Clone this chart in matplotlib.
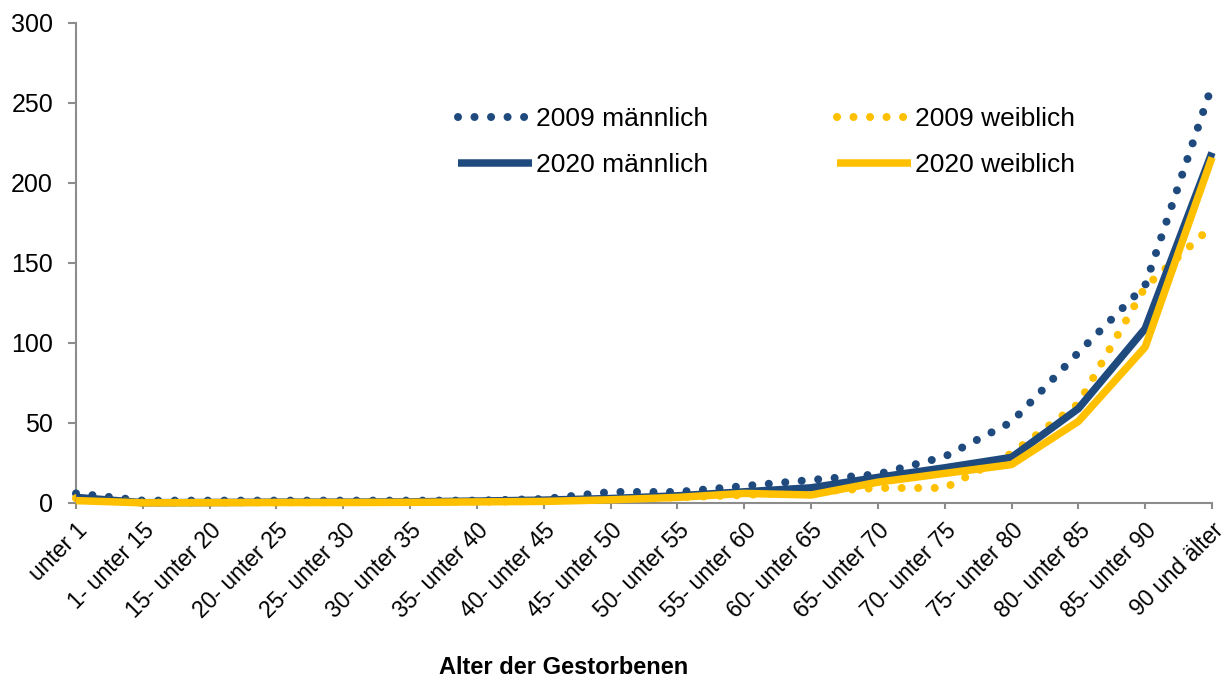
# Sterbefaelle nach Altersgruppen, 2009 vs 2020
import numpy as np
import matplotlib.pyplot as plt

plt.rcParams['font.family'] = ['Liberation Sans', 'DejaVu Sans']

# data
AGES = ["unter 1", "1- unter 15", "15- unter 20", "20- unter 25", "25- unter 30",
        "30- unter 35", "35- unter 40", "40- unter 45", "45- unter 50", "50- unter 55",
        "55- unter 60", "60- unter 65", "65- unter 70", "70- unter 75", "75- unter 80",
        "80- unter 85", "85- unter 90", "90 und älter"]

M_2009 = [6, 1.5, 1.5, 1.5, 1.5, 1.5, 1.5, 2.5, 6.9, 6.9, 10.6, 14.4, 18, 29, 50.6, 94, 136, 261]
W_2009 = [3, 0.3, 0.3, 0.4, 0.5, 0.6, 0.8, 1.2, 2.5, 3.5, 5, 7, 9.4, 9.4, 31, 62, 135, 173]
M_2020 = [3.5, 0.2, 0.3, 0.5, 0.5, 0.7, 1.2, 1.8, 2.8, 4.5, 7, 9.5, 16, 22, 28.5, 59, 109, 219]
W_2020 = [1.5, 0.1, 0.2, 0.3, 0.3, 0.4, 0.7, 1.0, 2.0, 3.5, 6, 5, 13, 18.5, 24, 51, 97.5, 216]

NAVY = '#1F4A7E'
GOLD = '#FFC000'
GRAY = '#8C8C8C'


def main():
    fig = plt.figure(figsize=(12.24, 6.78), dpi=100)
    ax = fig.add_axes([76/1224, 1 - 503/678, (1212-76)/1224, (503-23)/678])

    x = np.arange(len(AGES))
    dots = (0, (0.001, 2.05))

    ax.plot(x, M_2009, color=NAVY, lw=5.8, linestyle=dots, dash_capstyle='round',
            label='2009 männlich', clip_on=False, zorder=3)
    ax.plot(x, W_2009, color=GOLD, lw=5.8, linestyle=dots, dash_capstyle='round',
            label='2009 weiblich', clip_on=False, zorder=3)
    ax.plot(x, M_2020, color=NAVY, lw=5.4, solid_capstyle='butt',
            label='2020 männlich', clip_on=False, zorder=4)
    ax.plot(x, W_2020, color=GOLD, lw=5.4, solid_capstyle='butt',
            label='2020 weiblich', clip_on=False, zorder=5)

    ax.set_xlim(0, len(AGES) - 1)
    ax.set_ylim(0, 300)
    ax.set_yticks(np.arange(0, 301, 50))
    ax.set_xticks(x)
    ax.set_xticklabels(AGES, rotation=45, ha='right', va='top', rotation_mode='anchor')

    for s in ['top', 'right']:
        ax.spines[s].set_visible(False)
    for s in ['left', 'bottom']:
        ax.spines[s].set_color(GRAY)
        ax.spines[s].set_linewidth(1.5)
    ax.tick_params(axis='both', colors=GRAY, labelcolor='black', width=1.5)
    ax.tick_params(axis='y', length=5.5, labelsize=18, pad=11)
    ax.tick_params(axis='x', length=4.5, labelsize=16.5, pad=7)

    h, l = ax.get_legend_handles_labels()
    order = [0, 2, 1, 3]
    ax.legend([h[i] for i in order], [l[i] for i in order], ncol=2, frameon=False,
              loc='upper left', bbox_to_anchor=(458/1224, 1 - 107/678),
              bbox_transform=fig.transFigure, fontsize=19, handlelength=2.8,
              handletextpad=0.15, columnspacing=4.9, labelspacing=0.85,
              borderpad=0, borderaxespad=0)

    fig.text(564/1224, 1 - 667/678, 'Alter der Gestorbenen', fontsize=17,
             fontweight='bold', ha='center', va='center')

    plt.savefig('out.png', dpi=100)


if __name__ == '__main__':
    main()
